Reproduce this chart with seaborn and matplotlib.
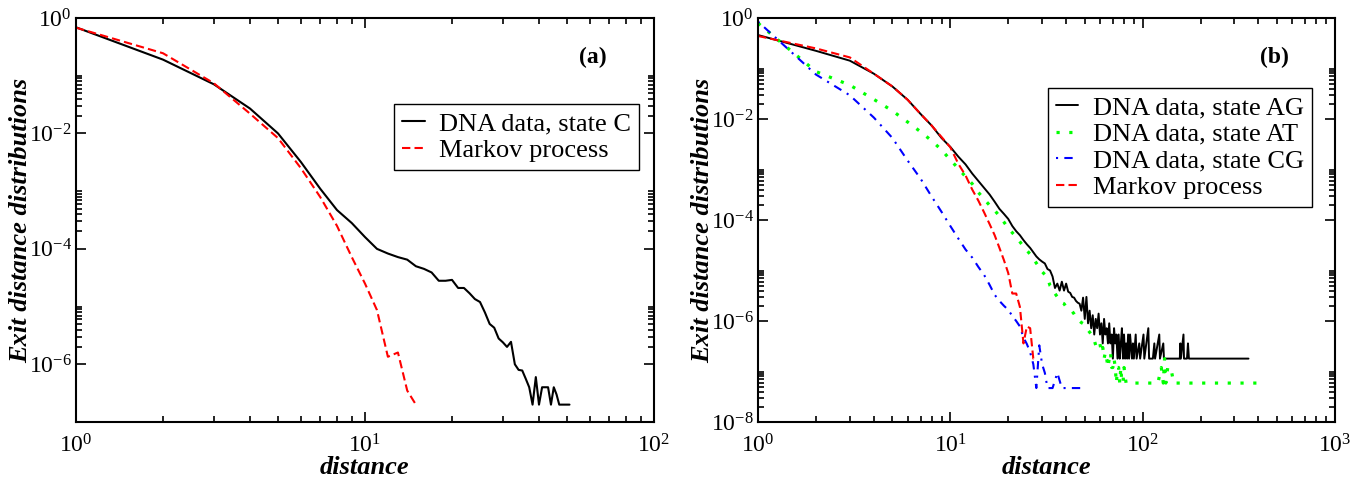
import numpy as np
import pandas as pd
import matplotlib
matplotlib.use("Agg")
import matplotlib.pyplot as plt
import seaborn as sns
from matplotlib.ticker import FixedLocator, LogLocator, LogFormatterMathtext, NullFormatter

# ---------------- data: panel (a) ----------------
a_C_x = list(range(1, 52))
a_C_y = [0.69, 0.19, 7.1e-2, 2.7e-2, 1.0e-2, 3.2e-3, 1.1e-3, 4.7e-4, 2.8e-4, 1.6e-4,
         1.0e-4, 8.3e-5, 7.2e-5, 6.5e-5, 5.0e-5, 4.5e-5, 3.9e-5, 2.8e-5, 2.8e-5, 2.9e-5,
         2.1e-5, 2.1e-5, 1.7e-5, 1.35e-5, 1.2e-5, 7.9e-6, 5.0e-6, 4.3e-6, 2.8e-6, 2.4e-6,
         2.0e-6, 2.45e-6, 1.0e-6, 8.0e-7, 7.8e-7, 5.6e-7, 4.0e-7, 2.0e-7, 6.0e-7, 2.0e-7,
         4.0e-7, 4.0e-7, 4.0e-7, 2.0e-7, 4.0e-7, 3.0e-7, 2.0e-7, 2.0e-7, 2.0e-7, 2.0e-7,
         2.0e-7]
a_M_x = list(range(1, 16))
a_M_y = [0.68, 0.245, 7.4e-2, 2.2e-2, 8.3e-3, 2.5e-3, 7.9e-4, 2.5e-4, 7.2e-5, 2.5e-5,
         8.7e-6, 1.35e-6, 1.6e-6, 3.5e-7, 2.0e-7]

# ---------------- data: panel (b) ----------------
b_AG_x = list(range(1, 87)) + [88, 89, 90, 92, 93, 96, 97, 101, 102, 107, 108, 113, 115,
                                116, 122, 123, 128, 129, 156, 157, 158, 163, 164, 170, 172,
                                174, 355]
b_AG_y = [0.46, 0.224, 0.143, 7.9e-2, 4.4e-2, 2.4e-2, 1.26e-2, 7.4e-3, 4.2e-3, 2.8e-3,
          1.8e-3, 1.26e-3, 8.3e-4, 5.9e-4, 4.3e-4, 3.2e-4, 2.3e-4, 1.66e-4, 1.32e-4, 1.05e-4,
          7.6e-5, 6.0e-5, 5.0e-5, 4.0e-5, 3.3e-5, 2.8e-5, 2.3e-5, 1.9e-5, 1.66e-5, 1.5e-5,
          1.38e-5, 1.07e-5, 1.0e-5, 7.6e-6, 4.5e-6, 5.5e-6, 4.0e-6, 6.0e-6, 4.0e-6, 5.5e-6,
          3.8e-6, 3.6e-6, 3.0e-6, 2.9e-6, 2.5e-6, 2.3e-6, 2.2e-6, 1.6e-6, 2.9e-6, 1.1e-6,
          3.0e-6, 9.0e-7, 1.6e-6, 7.2e-7, 1.3e-6, 5.4e-7, 1.1e-6, 7.2e-7, 1.4e-6, 5.4e-7,
          9.0e-7, 3.6e-7, 1.1e-6, 5.4e-7, 7.2e-7, 3.6e-7, 9.0e-7, 3.6e-7, 5.4e-7, 1.8e-7,
          7.2e-7, 3.6e-7, 5.4e-7, 1.8e-7, 5.4e-7, 1.8e-7, 3.6e-7, 7.2e-7, 1.8e-7, 5.4e-7,
          1.8e-7, 3.6e-7, 1.8e-7, 5.4e-7, 1.8e-7, 5.4e-7,
          1.8e-7, 3.6e-7, 1.8e-7, 5.4e-7, 1.8e-7, 3.6e-7, 1.8e-7, 5.4e-7, 1.8e-7, 7.2e-7,
          1.8e-7, 1.8e-7, 3.6e-7, 1.8e-7, 5.4e-7, 1.8e-7, 3.6e-7, 1.8e-7, 1.8e-7, 3.6e-7,
          1.8e-7, 5.4e-7, 1.8e-7, 1.8e-7, 3.6e-7, 1.8e-7, 1.8e-7]

b_AT_x = list(range(1, 81)) + [82, 85, 120, 125, 128, 130, 132, 135, 140, 145, 410]
b_AT_y = [0.79, 8.7e-2, 4.7e-2, 2.45e-2, 1.45e-2, 8.7e-3, 5.6e-3, 3.7e-3, 2.45e-3, 1.55e-3,
          1.05e-3, 7.2e-4, 5.2e-4, 3.5e-4, 2.6e-4, 1.95e-4, 1.55e-4, 1.2e-4, 9.1e-5, 6.9e-5,
          5.6e-5, 4.6e-5, 3.7e-5, 3.0e-5, 2.5e-5, 2.1e-5, 1.74e-5, 1.4e-5, 1.15e-5, 9.5e-6,
          8.3e-6, 7.2e-6, 5.0e-6, 4.4e-6, 3.5e-6, 3.0e-6, 2.8e-6, 2.3e-6, 2.2e-6, 1.9e-6,
          1.8e-6, 1.66e-6, 1.55e-6, 1.38e-6, 1.2e-6, 1.05e-6, 1.0e-6, 9.3e-7, 8.9e-7, 7.9e-7,
          7.2e-7, 6.6e-7, 6.0e-7, 5.5e-7, 4.9e-7, 4.2e-7, 3.3e-7, 3.5e-7, 3.0e-7, 3.5e-7,
          2.4e-7, 3.0e-7, 1.8e-7, 2.4e-7, 1.8e-7, 1.2e-7, 1.8e-7, 2.4e-7, 1.2e-7, 1.2e-7,
          1.8e-7, 1.2e-7, 5.9e-8, 1.2e-7, 1.2e-7, 5.9e-8, 1.2e-7, 5.9e-8, 5.9e-8, 1.2e-7,
          5.9e-8, 5.9e-8, 5.9e-8, 1.2e-7, 5.9e-8, 1.8e-7, 5.9e-8, 1.2e-7, 1.2e-7, 5.9e-8,
          5.9e-8]

b_CG_x = list(range(1, 33)) + [34, 36, 38, 40, 48]
b_CG_y = [0.85, 7.6e-2, 2.95e-2, 1.07e-2, 4.2e-3, 1.5e-3, 6.6e-4, 2.9e-4, 1.45e-4, 7.6e-5,
          4.3e-5, 2.6e-5, 1.8e-5, 1.17e-5, 8.1e-6, 5.2e-6, 3.3e-6, 2.5e-6, 2.0e-6, 1.66e-6,
          1.26e-6, 1.0e-6, 7.8e-7, 4.7e-7, 3.5e-7, 2.4e-7, 1.4e-7, 4.7e-8, 3.3e-7, 1.4e-7,
          9.4e-8, 4.7e-8, 4.7e-8, 9.4e-8, 4.7e-8, 4.7e-8, 4.7e-8]

b_M_x = list(range(1, 29))
b_M_y = [0.44, 0.25, 0.166, 7.9e-2, 4.4e-2, 2.4e-2, 1.26e-2, 7.4e-3, 4.4e-3, 2.75e-3,
         1.3e-3, 7.6e-4, 4.0e-4, 2.4e-4, 1.4e-4, 8.3e-5, 5.0e-5, 2.8e-5, 1.6e-5, 8.9e-6,
         3.5e-6, 3.5e-6, 1.9e-6, 3.6e-7, 7.8e-7, 7.2e-7, 1.8e-7, 1.8e-7]

labels_a = ["DNA data, state C", "Markov process"]
labels_b = ["DNA data, state AG", "DNA data, state AT", "DNA data, state CG", "Markov process"]

# ---------------- style ----------------
sns.set_theme(style="ticks")
plt.rcParams['font.family'] = ['Liberation Serif', 'DejaVu Serif']
plt.rcParams['mathtext.fontset'] = 'custom'
plt.rcParams['mathtext.rm'] = 'Liberation Serif'
plt.rcParams['mathtext.it'] = 'Liberation Serif:italic'
plt.rcParams['mathtext.bf'] = 'Liberation Serif:bold'
plt.rcParams['lines.dash_capstyle'] = 'butt'
for key in ['text.color', 'axes.labelcolor', 'xtick.color', 'ytick.color', 'axes.edgecolor']:
    plt.rcParams[key] = 'black'

W, H = 1367, 483
fig = plt.figure(figsize=(W / 100, H / 100), dpi=100)
ax1 = fig.add_axes([76 / W, 61 / H, 578 / W, 404 / H])
ax2 = fig.add_axes([758 / W, 61 / H, 577 / W, 404 / H])


def draw(ax, x, y, color, ls, lw, label):
    df = pd.DataFrame({"distance": x, "p": y})
    sns.lineplot(data=df, x="distance", y="p", ax=ax, color=color, linestyle=ls,
                 linewidth=lw, label=label, estimator=None, sort=False)


RED_DASH = (0, (4, 2))
GREEN_DOT = (0, (1, 3))
BLUE_DD = (0, (1, 3, 4, 3))

draw(ax1, a_C_x, a_C_y, "black", "-", 1.5, labels_a[0])
draw(ax1, a_M_x, a_M_y, "#ff0000", RED_DASH, 1.5, labels_a[1])

draw(ax2, b_AG_x, b_AG_y, "black", "-", 1.4, labels_b[0])
draw(ax2, b_AT_x, b_AT_y, "#00ff00", GREEN_DOT, 2.3, labels_b[1])
draw(ax2, b_CG_x, b_CG_y, "#0000ff", BLUE_DD, 1.5, labels_b[2])
draw(ax2, b_M_x, b_M_y, "#ff0000", RED_DASH, 1.5, labels_b[3])


def style_axes(ax, xmax, ymin_exp, legend_anchor, panel):
    ax.set_xscale("log")
    ax.set_yscale("log")
    ax.set_xlim(1, xmax)
    ax.set_ylim(10.0 ** ymin_exp, 1)
    ax.xaxis.set_major_locator(LogLocator(base=10, numticks=10))
    ax.xaxis.set_minor_locator(LogLocator(base=10, subs=np.arange(2, 10), numticks=20))
    ax.xaxis.set_major_formatter(LogFormatterMathtext())
    ax.xaxis.set_minor_formatter(NullFormatter())
    majors = [10.0 ** e for e in range(0, ymin_exp - 1, -2)]
    minors = []
    for m in majors + [10.0 ** (min(range(0, ymin_exp - 1, -2)) - 2)]:
        for k in range(2, 11):
            v = m * k
            if 10.0 ** ymin_exp <= v < 1:
                minors.append(v)
    ax.yaxis.set_major_locator(FixedLocator(majors))
    ax.yaxis.set_minor_locator(FixedLocator(minors))
    ax.yaxis.set_major_formatter(LogFormatterMathtext())
    ax.yaxis.set_minor_formatter(NullFormatter())
    ax.tick_params(which="both", direction="in", top=True, right=True, colors="black",
                   width=1.2)
    ax.tick_params(which="major", length=7.5, labelsize=17)
    ax.tick_params(axis="x", which="major", pad=9)
    ax.tick_params(axis="y", which="major", pad=3)
    ax.tick_params(which="minor", length=4.3)
    for s in ax.spines.values():
        s.set_color("black")
        s.set_linewidth(1.5)
    ax.grid(False)
    ax.set_xlabel("distance", fontsize=19, fontweight="bold", style="italic", color="black")
    ax.set_ylabel("Exit distance distributions", fontsize=19, fontweight="bold",
                  style="italic", color="black")
    ax.xaxis.set_label_coords(0.5, -0.084)
    ax.yaxis.set_label_coords(-0.076, 0.5)
    leg = ax.legend(loc="upper right", bbox_to_anchor=legend_anchor, fontsize=19,
                    frameon=True, fancybox=False, edgecolor="black", framealpha=1,
                    borderpad=0.3, labelspacing=0.12, handlelength=0.85,
                    handletextpad=0.55, borderaxespad=0)
    leg.get_frame().set_linewidth(1.0)
    for t in leg.get_texts():
        t.set_color("black")
    ax.text(0.895, 0.903, panel, transform=ax.transAxes, fontsize=17,
            fontweight="bold", ha="center", va="center", color="black")


style_axes(ax1, 100, -7, (0.974, 0.787), "(a)")
style_axes(ax2, 1000, -8, (0.960, 0.827), "(b)")

fig.savefig("out.png", dpi=100)
